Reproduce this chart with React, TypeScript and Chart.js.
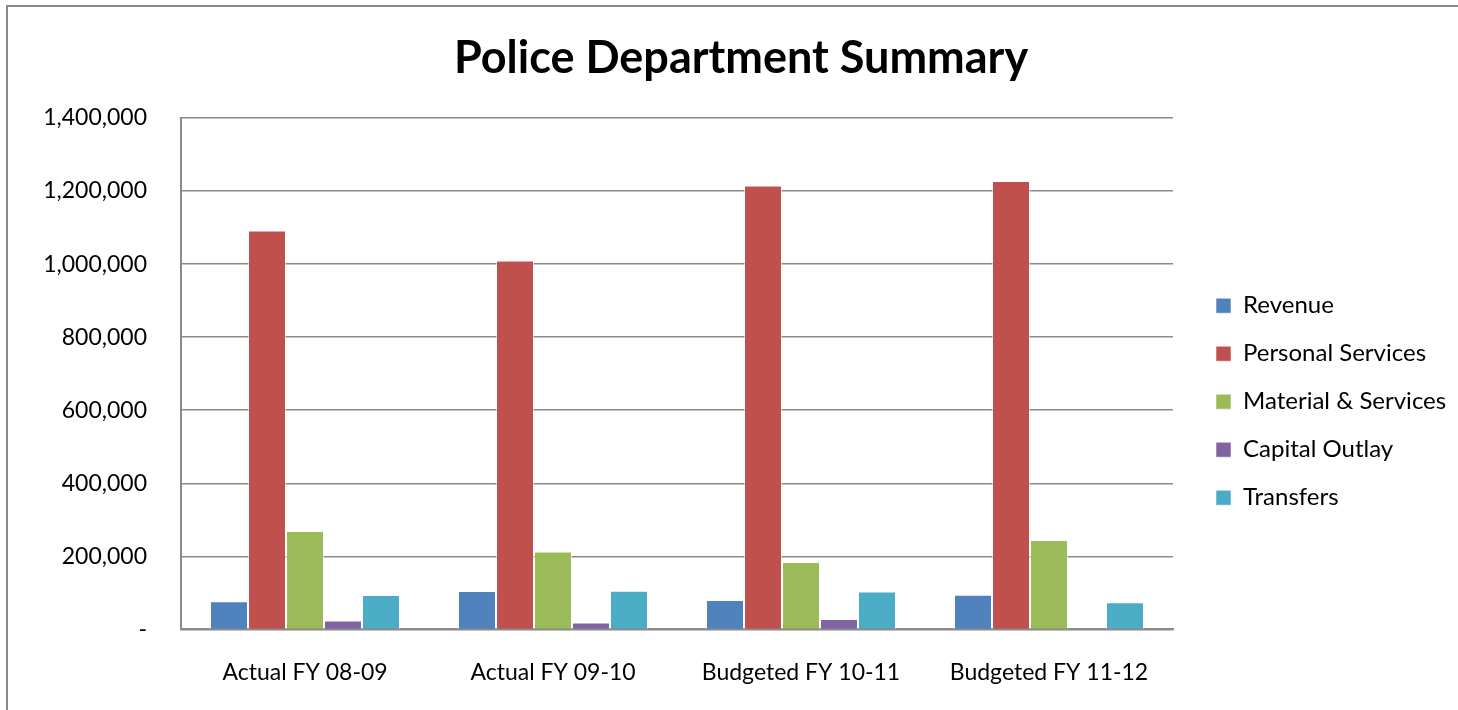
import React, { useEffect, useRef } from "react";
import { Chart, registerables } from "chart.js";

Chart.register(...registerables);

const categories = ["Actual FY 08-09", "Actual FY 09-10", "Budgeted FY 10-11", "Budgeted FY 11-12"];
const revenue = [77000, 105000, 80500, 95000];
const personalServices = [1092000, 1010000, 1215500, 1227500];
const materialServices = [269500, 213000, 184500, 245000];
const capitalOutlay = [24500, 19000, 28500, 0];
const transfers = [94000, 106000, 104000, 74000];
const seriesNames = ["Revenue", "Personal Services", "Material & Services", "Capital Outlay", "Transfers"];
const seriesColors = ["#4F81BD", "#C0504D", "#9BBB59", "#8064A2", "#4BACC6"];
const yTicks = [0, 200000, 400000, 600000, 800000, 1000000, 1200000, 1400000];

const FONT = "Lato, 'Open Sans', sans-serif";
const W = 1458;
const H = 710;

const frame = {
  id: "frame",
  beforeDraw(chart: any) {
    const c = chart.ctx;
    c.save();
    c.fillStyle = "#ffffff";
    c.fillRect(0, 0, chart.width, chart.height);
    c.strokeStyle = "#8a8a8a";
    c.lineWidth = 2;
    c.strokeRect(7, 6, chart.width + 20, chart.height + 20);
    c.restore();
  },
};

export default function App() {
  const ref = useRef<HTMLCanvasElement | null>(null);
  useEffect(() => {
    const canvas = ref.current!;
    const mctx = canvas.getContext("2d")!;
    const legFont = 24;
    mctx.font = `${legFont}px ${FONT}`;
    const tw = Math.max(...seriesNames.map((s) => mctx.measureText(s).width));
    const legPad = 24;
    const boxW = 15;
    const legendW = legPad + boxW + legFont / 2 + tw + 10;
    const legendLeft = 1216 - legPad;
    const padRight = W - legendLeft - legendW;
    const padLeft = 24 + padRight;

    const vals = [revenue, personalServices, materialServices, capitalOutlay, transfers];
    const chart = new Chart(canvas, {
      type: "bar",
      data: {
        labels: categories,
        datasets: seriesNames.map((name, i) => ({
          label: name,
          data: vals[i],
          backgroundColor: seriesColors[i],
          borderColor: "rgba(255,255,255,0.55)",
          borderWidth: 1,
          categoryPercentage: 0.766,
          barPercentage: 1,
        })),
      },
      plugins: [frame],
      options: {
        responsive: false,
        animation: false,
        devicePixelRatio: 1,
        layout: { padding: { top: 5, left: padLeft, right: padRight, bottom: 3 } },
        plugins: {
          title: {
            display: true,
            text: "Police Department Summary",
            color: "#000",
            font: { family: FONT, size: 45, weight: "bold", lineHeight: 1.2 },
            padding: { top: 26, bottom: 33 },
          },
          legend: {
            position: "right",
            fullSize: false,
            align: "center",
            maxWidth: 600,
            title: { display: true, text: "", font: { size: 10, lineHeight: 1.2 }, padding: { top: 22, bottom: 22 } },
            labels: {
              boxWidth: boxW,
              boxHeight: 15,
              padding: legPad,
              color: "#000",
              font: { family: FONT, size: legFont },
            },
          },
          tooltip: { enabled: false },
        },
        scales: {
          x: {
            grid: { display: false },
            border: { display: true, color: "#8a8a8a", width: 2 },
            ticks: { color: "#000", font: { family: FONT, size: 23 }, padding: 21, maxRotation: 0 },
          },
          y: {
            min: 0,
            max: 1400000,
            afterBuildTicks: (s: any) => {
              s.ticks = yTicks.map((v) => ({ value: v }));
            },
            afterFit: (s: any) => {
              s.width = 181 - padLeft;
            },
            grid: { color: "#8a8a8a", lineWidth: 1.5, drawTicks: false },
            border: { display: true, color: "#8a8a8a", width: 2 },
            ticks: {
              color: "#000",
              padding: 34,
              font: { family: FONT, size: 23 },
              callback: (v: any) => (Number(v) === 0 ? "-" : Number(v).toLocaleString("en-US")),
            },
          },
          yR: {
            type: "linear",
            position: "right",
            display: true,
            grid: { display: false, drawOnChartArea: false },
            border: { display: false },
            ticks: { display: false },
            afterFit: (s: any) => {
              s.width = 19;
            },
          },
        },
      },
    } as any);
    return () => chart.destroy();
  }, []);
  return (
    <div style={{ position: "fixed", left: 0, top: 0, width: W, height: H, background: "#fff" }}>
      <canvas ref={ref} width={W} height={H} style={{ width: W, height: H, display: "block" }} />
    </div>
  );
}
